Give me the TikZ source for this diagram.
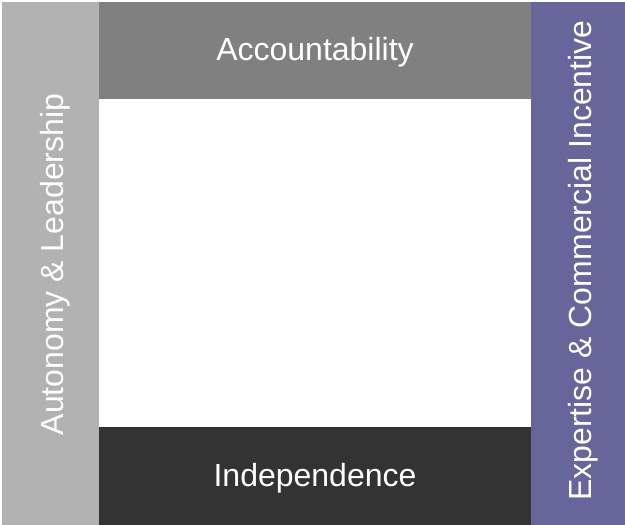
\documentclass[tikz,border=0pt]{standalone}
\usepackage{fontspec}
\setmainfont{Liberation Sans}
\usetikzlibrary{positioning}
\definecolor{barleft}{HTML}{B2B2B2}
\definecolor{bartop}{HTML}{808080}
\definecolor{barbottom}{HTML}{333333}
\definecolor{barright}{HTML}{66669A}

\begin{document}
\begin{tikzpicture}[x=1pt,y=-1pt]
\tikzset{bar/.style={rectangle,inner sep=0pt},
	label text/.style={text=white,inner sep=0pt,font=\fontsize{32}{36}\selectfont}}
\useasboundingbox[fill=white] (0,0) rectangle (625,525);
	\node[bar,fill=barleft,minimum width=97pt,minimum height=523pt] (autonomy) at (50.5,263.5) {};
	\node[label text,rotate=90] (autonomytext) at ([xshift=5pt,yshift=-1pt]autonomy.center) {Autonomy \& Leadership};
	\node[bar,fill=bartop,minimum width=432pt,minimum height=97pt] (accountability) at (315,50.5) {};
	\node[label text] (accountabilitytext) at ([yshift=-2pt]accountability.center) {Accountability};
	\node[bar,fill=barbottom,minimum width=432pt,minimum height=98pt] (independence) at (315,476) {};
	\node[label text] (independencetext) at ([yshift=-2pt]independence.center) {Independence};
	\node[bar,fill=barright,minimum width=94pt,minimum height=523pt] (expertise) at (578,263.5) {};
	\node[label text,rotate=90] (expertisetext) at ([xshift=5pt,yshift=3pt]expertise.center) {Expertise \& Commercial Incentive};
\end{tikzpicture}
\end{document}
